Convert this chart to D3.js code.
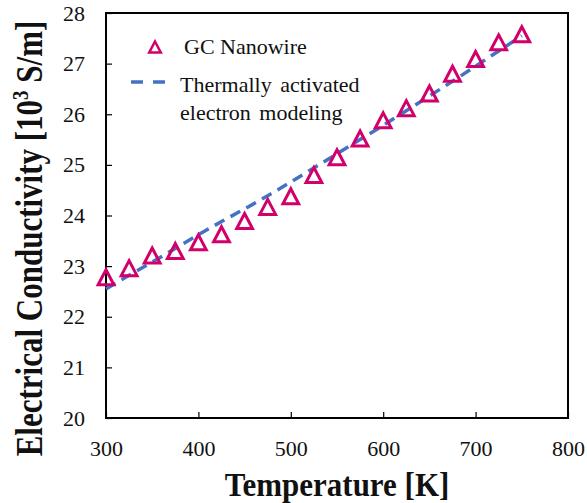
<!DOCTYPE html>
<html>
<head>
<meta charset="utf-8">
<script src="https://cdn.jsdelivr.net/npm/d3@7"></script>
<style>
  body { margin: 0; background: #fff; }
  svg { display: block; }
  svg text { font-family: "Liberation Serif", "Times New Roman", serif; }
</style>
</head>
<body>
<div id="chart"></div>
<script>
// temperatures (K)
const temps = [300, 325, 350, 375, 400, 425, 450, 475, 500, 525, 550, 575, 600, 625, 650, 675, 700, 725, 750];
// measured GC nanowire conductivity (10^3 S/m)
const measured = [22.78, 22.96, 23.21, 23.30, 23.47, 23.63, 23.89, 24.17, 24.38, 24.80, 25.15, 25.52, 25.88, 26.12, 26.41, 26.80, 27.09, 27.42, 27.58];
// thermally activated electron model
const model = [22.55, 22.82, 23.08, 23.35, 23.62, 23.88, 24.13, 24.39, 24.66, 24.94, 25.22, 25.50, 25.78, 26.07, 26.36, 26.65, 26.95, 27.25, 27.55];
const xTicks = [300, 400, 500, 600, 700, 800];
const yTicks = [20, 21, 22, 23, 24, 25, 26, 27, 28];
const legendLabels = ["GC Nanowire", ["Thermally activated", "electron modeling"]];

const width = 587, height = 503;
const margin = {top: 13, right: 19, bottom: 85, left: 106};
const markColor = "#d1006a", lineColor = "#4472c4";

const svg = d3.select("#chart").append("svg")
    .attr("width", width)
    .attr("height", height);

const x = d3.scaleLinear().domain([300, 800]).range([margin.left, width - margin.right]);
const y = d3.scaleLinear().domain([20, 28]).range([height - margin.bottom, margin.top]);

// triangle symbol centred on its bounding box
const triangle = {
    draw(ctx, size) {
        const h = Math.sqrt(size);
        const w = h * 1.05;
        ctx.moveTo(0, -h / 2);
        ctx.lineTo(w / 2, h / 2);
        ctx.lineTo(-w / 2, h / 2);
        ctx.closePath();
    }
};

// axes (ticks point inward)
svg.append("g")
    .attr("transform", `translate(0,${y(20)})`)
    .call(d3.axisBottom(x).tickValues(xTicks).tickSize(-6).tickPadding(22).tickSizeOuter(0))
    .call(g => g.select(".domain").remove())
    .call(g => g.selectAll("line").attr("stroke", "#000").attr("stroke-width", 1.2))
    .call(g => g.selectAll("text").attr("font-size", 22).attr("fill", "#111")
        .style("font-family", "'Liberation Serif', serif"));

svg.append("g")
    .attr("transform", `translate(${x(300)},0)`)
    .call(d3.axisLeft(y).tickValues(yTicks).tickSize(-6).tickPadding(21).tickSizeOuter(0))
    .call(g => g.select(".domain").remove())
    .call(g => g.selectAll("line").attr("stroke", "#000").attr("stroke-width", 1.2))
    .call(g => g.selectAll("text").attr("font-size", 22).attr("fill", "#111")
        .style("font-family", "'Liberation Serif', serif"));

// plot frame
svg.append("rect")
    .attr("x", x(300)).attr("y", y(28))
    .attr("width", x(800) - x(300)).attr("height", y(20) - y(28))
    .attr("fill", "none").attr("stroke", "#000").attr("stroke-width", 2);

// model line
svg.append("path")
    .datum(temps.map((t, i) => [t, model[i]]))
    .attr("fill", "none")
    .attr("stroke", lineColor)
    .attr("stroke-width", 3.5)
    .attr("stroke-dasharray", "11,7")
    .attr("d", d3.line().x(d => x(d[0])).y(d => y(d[1])));

// measured points
svg.append("g").selectAll("path")
    .data(temps.map((t, i) => [t, measured[i]]))
    .join("path")
    .attr("transform", d => `translate(${x(d[0])},${y(d[1])})`)
    .attr("d", d3.symbol(triangle, 15 * 15))
    .attr("fill", "none")
    .attr("stroke", markColor)
    .attr("stroke-width", 3);

// legend
const leg = svg.append("g");
leg.append("path")
    .attr("transform", "translate(155,47)")
    .attr("d", d3.symbol(triangle, 11 * 11))
    .attr("fill", "none")
    .attr("stroke", markColor)
    .attr("stroke-width", 2.5);
leg.append("text")
    .attr("x", 184).attr("y", 54)
    .attr("font-size", 22).attr("fill", "#111")
    .text(legendLabels[0]);
leg.append("line")
    .attr("x1", 131).attr("x2", 167).attr("y1", 82).attr("y2", 82)
    .attr("stroke", lineColor).attr("stroke-width", 3.5)
    .attr("stroke-dasharray", "12,10");
legendLabels[1].forEach((s, i) => {
    leg.append("text")
        .attr("x", 180).attr("y", 92 + i * 28)
        .attr("font-size", 22).attr("fill", "#111")
        .attr("word-spacing", 3)
        .text(s);
});

// axis titles
svg.append("text")
    .attr("transform", `translate(${(x(300) + x(800)) / 2},496) scale(1,1.12)`)
    .attr("text-anchor", "middle")
    .attr("font-size", 31).attr("font-weight", "bold").attr("fill", "#111")
    .text("Temperature [K]");

const yt = svg.append("text")
    .attr("transform", `translate(42,${(y(20) + y(28)) / 2 + 23}) rotate(-90) scale(1,1.2)`)
    .attr("text-anchor", "middle")
    .attr("font-size", 31).attr("font-weight", "bold").attr("fill", "#111");
yt.append("tspan").text("Electrical Conductivity [10");
yt.append("tspan").attr("font-size", 19).attr("dy", -12).text("3");
yt.append("tspan").attr("dy", 12).text(" S/m]");
</script>
</body>
</html>
